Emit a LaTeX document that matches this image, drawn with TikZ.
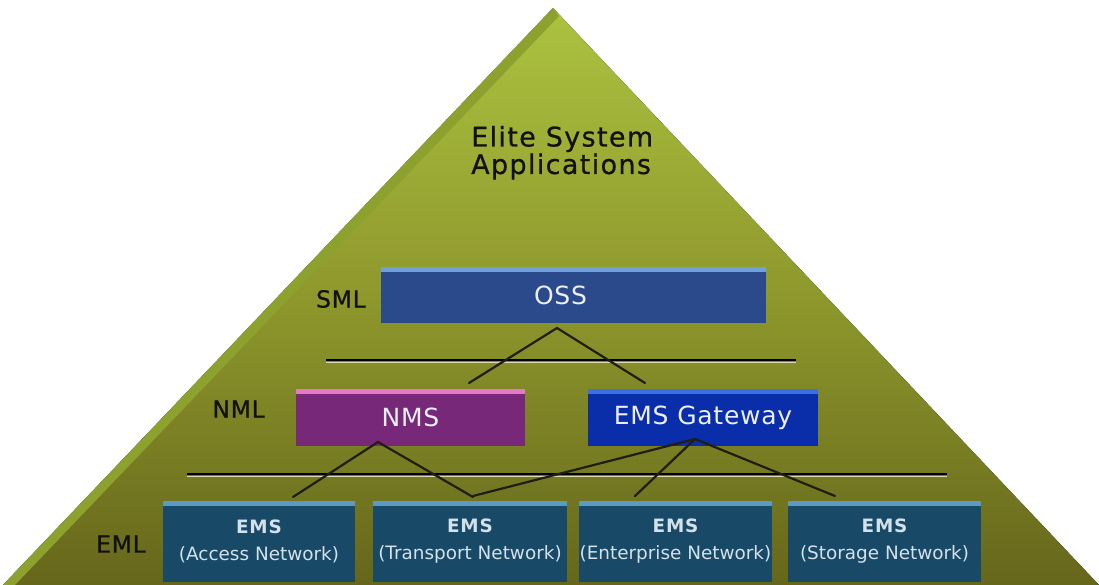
\documentclass[tikz,border=0pt]{standalone}
\usepackage{fontspec}
\setmainfont{DejaVu Sans}
\newfontfamily\ftitle[LetterSpace=5,FakeBold=0.6]{DejaVu Sans}
\newfontfamily\fboxtxt[LetterSpace=3]{DejaVu Sans}
\newfontfamily\flbl[LetterSpace=3,FakeBold=0.6]{DejaVu Sans}
\newfontfamily\fems{DejaVu Sans}
\newfontfamily\femsb[LetterSpace=4]{DejaVu Sans Bold}
\definecolor{pyrTop}{RGB}{172,194,64}
\definecolor{pyrMid}{RGB}{142,152,44}
\definecolor{pyrBot}{RGB}{102,102,27}
\definecolor{pyrEdge}{RGB}{141,162,46}
\definecolor{ossFill}{RGB}{42,74,140}
\definecolor{ossTop}{RGB}{110,160,220}
\definecolor{nmsFill}{RGB}{120,40,120}
\definecolor{nmsTop}{RGB}{230,120,200}
\definecolor{gwFill}{RGB}{10,46,170}
\definecolor{gwTop}{RGB}{60,110,230}
\definecolor{emsFill}{RGB}{24,74,104}
\definecolor{emsTop}{RGB}{90,154,196}
\definecolor{connC}{RGB}{30,30,18}
\definecolor{ruleLight}{RGB}{220,218,180}
\definecolor{boxText}{RGB}{236,238,250}
\definecolor{emsText}{RGB}{212,224,234}
\definecolor{lblText}{RGB}{18,18,12}
\begin{document}
\begin{tikzpicture}[x=1pt,y=-1pt,
  lvl/.style={font=\flbl\fontsize{23.5}{26}\selectfont, text=lblText, inner sep=0pt},
  ttl/.style={font=\ftitle\fontsize{27}{27}\selectfont, text=lblText, inner sep=0pt, anchor=base west},
  boxbase/.style 2 args={fill=#1, draw=none, inner sep=0pt,
    path picture={\fill[#2] (path picture bounding box.north west) rectangle ([yshift=-4.5pt]path picture bounding box.north east);}},
  bigbox/.style={font=\fboxtxt\fontsize{25}{27}\selectfont, text=boxText, minimum height=57pt},
  emsbox/.style={boxbase={emsFill}{emsTop}, minimum width=193pt, minimum height=81pt,
    align=center, font=\fems\fontsize{18.4}{27}\selectfont, text=emsText},
  link/.style={draw=connC, line width=2.2pt, line cap=round},
  darkrule/.style={draw=black, line width=1.6pt},
  lightrule/.style={draw=ruleLight, line width=1.5pt}
]
\useasboundingbox (0,0) rectangle (1099,585);
\fill[white] (0,0) rectangle (1099,585);
% pyramid
\fill[top color=pyrTop, bottom color=pyrBot, middle color=pyrMid] (553,8) -- (1099,585) -- (3,585) -- cycle;
\fill[pyrEdge] (553,8) -- (3,585) -- (15,585) -- (559,16) -- cycle;

% title
\node[ttl] (title1) at (471,146.5) {Elite System};
\node[ttl] (title2) at (471,174) {Applications};

% separators
\coordinate (r1a) at (326,360); \coordinate (r1b) at (796,360);
\coordinate (r1c) at (326,362.6); \coordinate (r1d) at (796,362.6);
\coordinate (r2a) at (187,474); \coordinate (r2b) at (947,474);
\coordinate (r2c) at (187,476.6); \coordinate (r2d) at (947,476.6);
\draw[lightrule] (r1c) -- (r1d);
\draw[darkrule] (r1a) -- (r1b);
\draw[lightrule] (r2c) -- (r2d);
\draw[darkrule] (r2a) -- (r2b);

% boxes
\node[boxbase={ossFill}{ossTop}, bigbox, minimum width=385pt, minimum height=56pt] (oss) at (573.5,295) {OSS\hspace*{26pt}};
\node[boxbase={nmsFill}{nmsTop}, bigbox, minimum width=229pt] (nms) at (410.5,417.5) {NMS};
\node[boxbase={gwFill}{gwTop}, bigbox, minimum width=230pt] (gw) at (703,417.5) {EMS Gateway};
\node[emsbox, minimum width=192pt] (acc) at (259,541.5) {{\femsb EMS}\\(Access Network)};
\node[emsbox, minimum width=194pt] (trn) at (470,541.5) {{\femsb EMS}\\(Transport Network)};
\node[emsbox] (ent) at (675.5,541.5) {{\femsb EMS}\\(Enterprise Network)};
\node[emsbox] (sto) at (884.5,541.5) {{\femsb EMS}\\(Storage Network)};

% level labels
\node[lvl, anchor=east] (sml) at (366,299) {SML};
\node[lvl, anchor=east] (nml) at (265,409) {NML};
\node[lvl, anchor=east] (eml) at (146,544) {EML};

% connectors
\coordinate (oj) at (557,328);
\coordinate (on) at (469,383);
\coordinate (og) at (645,383);
\coordinate (nj) at (378,442);
\coordinate (na) at (293,497);
\coordinate (nt) at (473,497);
\coordinate (gj) at (695,439);
\coordinate (gt) at (473,496);
\coordinate (ge) at (635,496);
\coordinate (gs) at (835,496);
\draw[link] (on) -- (oj) -- (og);
\draw[link] (na) -- (nj) -- (nt);
\draw[link] (gj) -- (gt);
\draw[link] (gj) -- (ge);
\draw[link] (gj) -- (gs);
\end{tikzpicture}
\end{document}
